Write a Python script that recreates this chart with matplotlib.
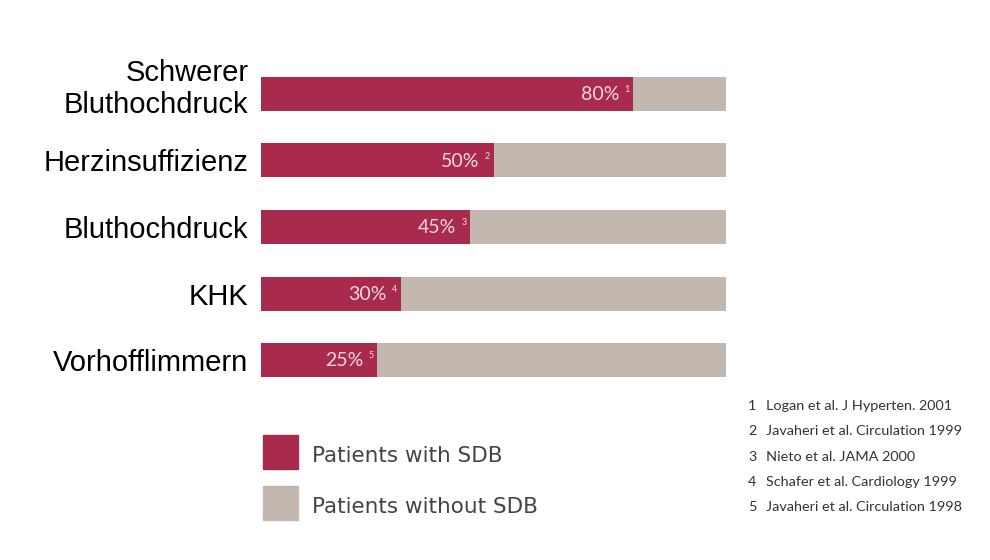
import matplotlib.pyplot as plt
import matplotlib.transforms as mtransforms
from matplotlib.patches import Rectangle

# data
categories = ['Schwerer\nBluthochdruck', 'Herzinsuffizienz', 'Bluthochdruck', 'KHK', 'Vorhofflimmern']
with_sdb = [80, 50, 45, 30, 25]
refs = ['1', '2', '3', '4', '5']
legend_labels = ['Patients with SDB', 'Patients without SDB']
footnotes = ['Logan et al. J Hyperten. 2001',
             'Javaheri et al. Circulation 1999',
             'Nieto et al. JAMA 2000',
             'Schafer et al. Cardiology 1999',
             'Javaheri et al. Circulation 1998']

red = '#A82B4E'
grey = '#C3B8B0'
label_col = '#F6D9E0'

fig = plt.figure(figsize=(9.9, 5.6), dpi=100)
ax = fig.add_axes([261 / 990, 1 - 400 / 560, 465 / 990, 346 / 560])

y = list(range(len(categories)))
without_sdb = [100 - v for v in with_sdb]
ax.barh(y, with_sdb, height=0.51, color=red)
ax.barh(y, without_sdb, left=with_sdb, height=0.51, color=grey)

for i, v in enumerate(with_sdb):
    ax.annotate(f'{v}%', (v, i), xytext=(-10, -0.5), textcoords='offset points',
                ha='right', va='center', color=label_col, fontsize=14, family='Lato')
    ax.annotate(refs[i], (v, i), xytext=(-2.5, 3), textcoords='offset points',
                ha='right', va='center', color=label_col, fontsize=6.5, family='Lato')

ax.set_xlim(0, 100)
ax.set_ylim(len(categories) - 0.4, -0.6)
ax.set_yticks(y)
ax.set_yticklabels(categories, fontsize=21, family='Liberation Sans', linespacing=1.2)
ax.tick_params(axis='y', length=0, pad=9)
ax.set_xticks([])
for s in ax.spines.values():
    s.set_visible(False)

# the two-line label sits a little above its bar
lbl = ax.get_yticklabels()[0]
lbl.set_transform(lbl.get_transform() + mtransforms.ScaledTranslation(0, 10 / 100, fig.dpi_scale_trans))

# legend
for k, lab in enumerate(legend_labels):
    top = 435 + k * 51
    fig.patches.append(Rectangle((263 / 990, 1 - (top + 34) / 560), 35 / 990, 34 / 560,
                                 transform=fig.transFigure, color=[red, grey][k]))
    fig.text(312 / 990, 1 - (top + 21) / 560, lab, fontsize=15.5, family='DejaVu Sans',
             color='#444444', va='center')

# footnotes
for k, txt in enumerate(footnotes):
    ty = 1 - (406 + k * 25.3) / 560
    fig.text(748 / 990, ty, refs[k], fontsize=10.4, family='Lato', color='#333333', va='center')
    fig.text(766 / 990, ty, txt, fontsize=10.4, family='Lato', color='#333333', va='center')

fig.savefig('out.png', dpi=100, facecolor='white')
